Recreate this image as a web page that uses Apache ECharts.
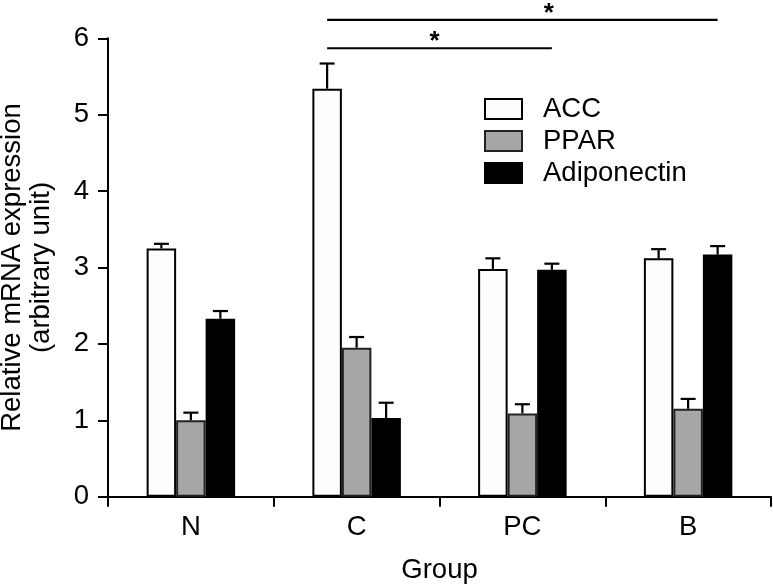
<!DOCTYPE html>
<html>
<head>
<meta charset="utf-8">
<script src="https://cdn.jsdelivr.net/npm/echarts@6/dist/echarts.min.js"></script>
<style>html,body{margin:0;padding:0;background:#fff}#c{width:773px;height:586px}</style>
</head>
<body>
<div id="c"></div>
<script>
const categories = ['N', 'C', 'PC', 'B'];
const seriesNames = ['ACC', 'PPAR', 'Adiponectin'];
const accMean = [3.25, 5.34, 2.98, 3.12];
const accErr = [0.06, 0.33, 0.14, 0.12];
const pparMean = [1.00, 1.95, 1.09, 1.15];
const pparErr = [0.10, 0.14, 0.12, 0.13];
const adipoMean = [2.33, 1.03, 2.97, 3.17];
const adipoErr = [0.10, 0.20, 0.08, 0.11];
const yTicks = [0, 1, 2, 3, 4, 5, 6];
// significance brackets: [fromCategory, fromBar, toCategory, toBar, level]
const brackets = [[1, 0, 2, 2, 5.87], [1, 0, 3, 2, 6.24]];
// asterisk x (category units) for each bracket
const asteriskX = [1.47, 2.16];

const FONT = 'Liberation Sans, Arial, sans-serif';
const FS = 27.5;
const BAR_W = 29.5;
const fills = ['#fdfdfd', '#a6a6a6', '#000000'];
const borders = ['#000000', '#222222', '#000000'];
const means = [accMean, pparMean, adipoMean];
const errs = [accErr, pparErr, adipoErr];

const chart = echarts.init(document.getElementById('c'), null, {renderer: 'canvas'});

const barSeries = seriesNames.map((n, i) => ({
  name: n,
  type: 'bar',
  data: means[i],
  barWidth: BAR_W,
  barGap: '0%',
  itemStyle: {color: fills[i], borderColor: borders[i], borderWidth: 2},
  emphasis: {disabled: true},
  z: 2
}));

const errSeries = seriesNames.map((n, i) => ({
  type: 'custom',
  xAxisIndex: 0,
  yAxisIndex: 0,
  data: categories.map((c, k) => [k, means[i][k], errs[i][k]]),
  z: 3,
  silent: true,
  renderItem: function (params, api) {
    const k = api.value(0);
    const m = api.value(1);
    const e = api.value(2);
    const p0 = api.coord([k, m]);
    const p1 = api.coord([k, m + e]);
    const x = p0[0] + (i - 1) * BAR_W;
    const st = {stroke: '#000', lineWidth: 2.2};
    return {
      type: 'group',
      children: [
        {type: 'line', shape: {x1: x, y1: p0[1], x2: x, y2: p1[1]}, style: st},
        {type: 'line', shape: {x1: x - 7.5, y1: p1[1], x2: x + 7.5, y2: p1[1]}, style: st}
      ]
    };
  }
}));

const sigSeries = {
  type: 'custom',
  xAxisIndex: 1,
  yAxisIndex: 0,
  clip: false,
  silent: true,
  z: 4,
  data: brackets.map((b, j) => [b[0], b[1], b[2], b[3], b[4], asteriskX[j]]),
  renderItem: function (params, api) {
    const a = api.coord([api.value(0), api.value(4)]);
    const b = api.coord([api.value(2), api.value(4)]);
    const s = api.coord([api.value(5), api.value(4)]);
    const x1 = a[0] + (api.value(1) - 1) * BAR_W;
    const x2 = b[0] + (api.value(3) - 1) * BAR_W;
    return {
      type: 'group',
      children: [
        {type: 'line', shape: {x1: x1, y1: a[1], x2: x2, y2: a[1]}, style: {stroke: '#000', lineWidth: 2.2}},
        {type: 'text', x: s[0], y: a[1] - 6, style: {text: '*', font: 'bold 26px ' + FONT, fill: '#000', align: 'center', verticalAlign: 'middle'}}
      ]
    };
  }
};

chart.setOption({
  animation: false,
  backgroundColor: '#fff',
  grid: {left: 108, right: 2, top: 38.3, bottom: 89.3, containLabel: false, outerBoundsMode: 'none'},
  legend: {
    data: seriesNames,
    orient: 'vertical',
    left: 484,
    top: 95,
    padding: 0,
    itemWidth: 37,
    itemHeight: 20,
    itemGap: 4,
    icon: 'rect',
    selectedMode: false,
    textStyle: {fontFamily: FONT, fontSize: FS, color: '#000', lineHeight: 27, padding: [0, 0, 0, 16]}
  },
  xAxis: [{
    type: 'category',
    data: categories,
    name: 'Group',
    nameLocation: 'middle',
    nameGap: 60,
    nameTextStyle: {fontFamily: FONT, fontSize: FS, color: '#000', lineHeight: 27},
    axisLine: {lineStyle: {color: '#000', width: 2}},
    axisTick: {show: true, length: 10, lineStyle: {color: '#000', width: 2}},
    axisLabel: {fontFamily: FONT, fontSize: FS, color: '#000', margin: 17, lineHeight: 27},
    splitLine: {show: false}
  }, {
    type: 'value',
    min: -0.5,
    max: 3.5,
    show: false
  }],
  yAxis: {
    type: 'value',
    min: yTicks[0],
    max: yTicks[yTicks.length - 1],
    interval: 1,
    name: 'Relative mRNA expression\n(arbitrary unit)',
    nameLocation: 'middle',
    nameGap: 52,
    nameTextStyle: {fontFamily: FONT, fontSize: FS, color: '#000', lineHeight: 29},
    axisLine: {show: true, onZero: false, lineStyle: {color: '#000', width: 2}},
    axisTick: {show: true, length: 10, lineStyle: {color: '#000', width: 2}},
    axisLabel: {fontFamily: FONT, fontSize: FS, color: '#000', margin: 19},
    splitLine: {show: false}
  },
  series: [...barSeries, ...errSeries, sigSeries]
});
</script>
</body>
</html>
